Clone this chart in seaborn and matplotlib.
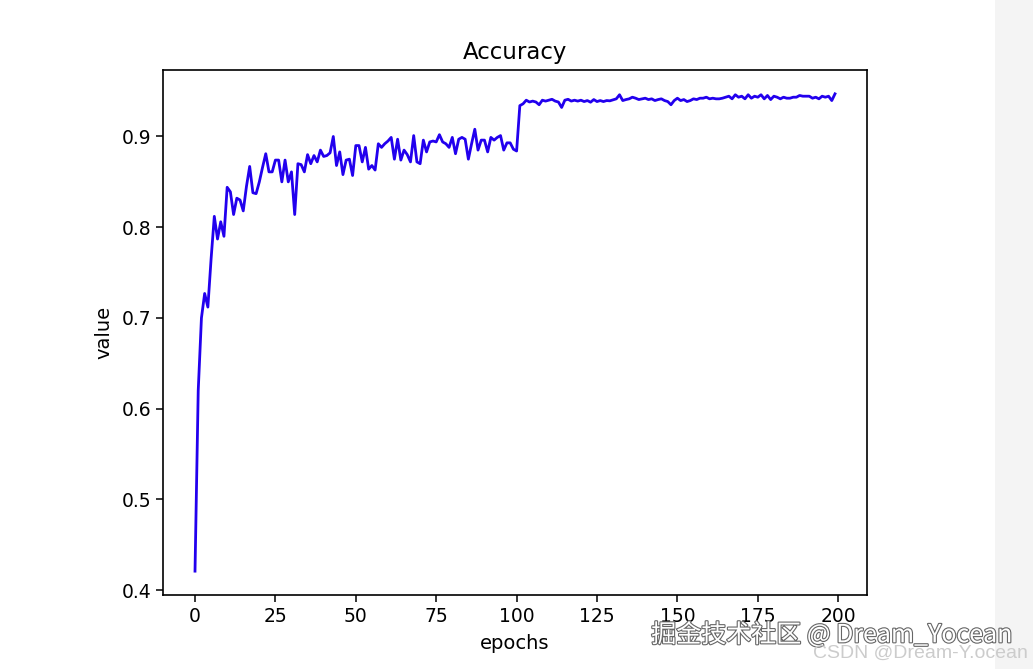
import numpy as np
import pandas as pd
import matplotlib
matplotlib.use("Agg")
import matplotlib.pyplot as plt
import matplotlib.patheffects as pe
from matplotlib.patches import Rectangle
import seaborn as sns

title = "Accuracy"
x_label = "epochs"
y_label = "value"

accuracy = [
    0.421, 0.620, 0.700, 0.727, 0.712, 0.765, 0.812, 0.787, 0.806, 0.790,
    0.844, 0.839, 0.814, 0.832, 0.830, 0.818, 0.845, 0.867, 0.838, 0.837,
    0.850, 0.866, 0.881, 0.861, 0.861, 0.874, 0.874, 0.850, 0.874, 0.850,
    0.861, 0.814, 0.870, 0.869, 0.861, 0.880, 0.870, 0.879, 0.872, 0.885,
    0.878, 0.879, 0.882, 0.900, 0.868, 0.883, 0.858, 0.874, 0.875, 0.857,
    0.890, 0.890, 0.872, 0.888, 0.864, 0.868, 0.863, 0.892, 0.888, 0.892,
    0.895, 0.899, 0.875, 0.897, 0.874, 0.885, 0.880, 0.872, 0.901, 0.872,
    0.870, 0.896, 0.883, 0.894, 0.895, 0.894, 0.902, 0.894, 0.892, 0.888,
    0.899, 0.881, 0.897, 0.899, 0.897, 0.875, 0.892, 0.908, 0.885, 0.896,
    0.896, 0.883, 0.899, 0.896, 0.899, 0.901, 0.885, 0.893, 0.893, 0.886,
    0.884, 0.934, 0.936, 0.940, 0.938, 0.939, 0.938, 0.935, 0.940, 0.939,
    0.940, 0.941, 0.939, 0.938, 0.932, 0.940, 0.941, 0.939, 0.940, 0.939,
    0.940, 0.9385, 0.9396, 0.9378, 0.9407, 0.9385, 0.9396, 0.9385, 0.9396, 0.9393,
    0.9404, 0.9415, 0.946, 0.9396, 0.9407, 0.9415, 0.9433, 0.9422, 0.9407, 0.9415,
    0.9422, 0.9407, 0.9415, 0.9396, 0.9407, 0.9415, 0.9396, 0.9385, 0.935, 0.9396,
    0.9422, 0.9396, 0.9407, 0.9385, 0.9396, 0.9415, 0.9407, 0.9422, 0.9422, 0.9433,
    0.9415, 0.9422, 0.9415, 0.9415, 0.9422, 0.9433, 0.9444, 0.9415, 0.946, 0.9433,
    0.9444, 0.9415, 0.946, 0.9422, 0.9444, 0.9433, 0.946, 0.9415, 0.9452, 0.9407,
    0.9444, 0.9433, 0.9415, 0.9433, 0.9422, 0.9422, 0.9433, 0.9433, 0.9452, 0.9444,
    0.9444, 0.9444, 0.9422, 0.9433, 0.9415, 0.9444, 0.9433, 0.9444, 0.9396, 0.947,
]
epochs = list(range(len(accuracy)))

watermark_main = "掘金技术社区 @ Dream_Yocean"
watermark_sub = "CSDN @Dream-Y.ocean"

df = pd.DataFrame({"epochs": epochs, "value": accuracy})

fig = plt.figure(figsize=(10.33, 6.69), dpi=100)
ax = fig.add_axes([0.1578, 0.1106, 0.6815, 0.7848])
sns.lineplot(data=df, x="epochs", y="value", ax=ax, color="#2200ee", linewidth=2.0)

ax.set_title(title, fontsize=16.5, pad=8)
ax.set_xlabel(x_label, fontsize=14, labelpad=6)
ax.set_ylabel(y_label, fontsize=14, labelpad=6)
ax.set_xticks([0, 25, 50, 75, 100, 125, 150, 175, 200])
ax.set_yticks([0.4, 0.5, 0.6, 0.7, 0.8, 0.9])
ax.tick_params(labelsize=13.5, length=5, width=1.1)
for s in ax.spines.values():
    s.set_linewidth(1.2)
ax.margins(x=0.05, y=0.05)

# right grey strip
fig.patches.append(Rectangle((995 / 1033, 0), 38 / 1033, 1, transform=fig.transFigure,
                             facecolor="#f4f4f4", edgecolor="none", zorder=-1))

fam = ["Noto Sans CJK SC", "DejaVu Sans"]
fig.text(1012 / 1033, 1 - 635 / 669, watermark_main, ha="right", va="center",
         fontsize=18, family=fam, color="white",
         path_effects=[pe.withStroke(linewidth=1.6, foreground="#666666")])
fig.text(1028 / 1033, 1 - 653 / 669, watermark_sub, ha="right", va="center",
         fontsize=14, family=["Liberation Sans", "DejaVu Sans"], color="#cccccc")

fig.savefig("out.png", dpi=100)
